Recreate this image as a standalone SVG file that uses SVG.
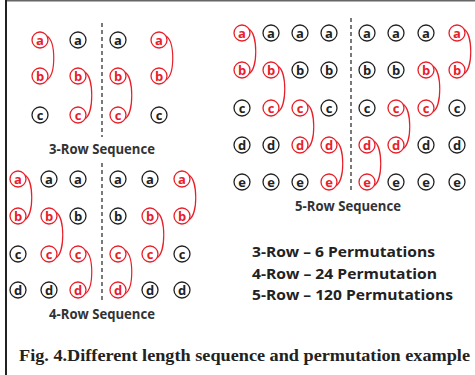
<svg xmlns="http://www.w3.org/2000/svg" width="475" height="375" viewBox="0 0 475 375">
  <style>
    .node circle { fill: #fff; stroke-width: 1.3; }
    .node text { font-family: "Open Sans", "Liberation Sans", sans-serif; font-weight: bold; font-size: 13px; text-anchor: middle; }
    .r circle { stroke: #e8202a; }
    .r text { fill: #e8202a; }
    .k circle { stroke: #222; }
    .k text { fill: #222; }
    .link { fill: none; stroke: #e8202a; stroke-width: 1.2; }
    .divider { stroke: #333; stroke-width: 1.3; stroke-dasharray: 4 3; }
    .title { font-family: "Open Sans", "Liberation Sans", sans-serif; font-weight: bold; font-size: 14px; fill: #333; }
    .perm { font-family: "Open Sans", "Liberation Sans", sans-serif; font-weight: bold; font-size: 15px; fill: #222; }
    .caption { font-family: "Liberation Serif", "Times New Roman", serif; font-weight: bold; font-size: 17px; fill: #222; }
  </style>

  <rect width="475" height="375" fill="#fff"/>
  <!-- frame -->
  <line x1="6" y1="0.7" x2="475" y2="0.7" stroke="#666" stroke-width="1.4"/>
  <line x1="6" y1="0" x2="6" y2="375" stroke="#222" stroke-width="2"/>

  <!-- dividers -->
  <line class="divider" x1="102" y1="23" x2="102" y2="137"/>
  <line class="divider" x1="102" y1="163" x2="102" y2="302"/>
  <line class="divider" x1="351" y1="18" x2="351" y2="193"/>

  <!-- connectors -->
  <g id="connectors">
    <!-- 3-row -->
    <path class="link" d="M47,36 C56,42 56,74 47,80"/>
    <path class="link" d="M85,72 C94,78 94,113 85,119"/>
    <path class="link" d="M125,72 C134,78 134,113 125,119"/>
    <path class="link" d="M166,36 C175,42 175,74 166,80"/>
    <!-- 4-row -->
    <path class="link" d="M25,175 C34,181 34,214 25,220"/>
    <path class="link" d="M56,212 C65,218 65,252 56,258"/>
    <path class="link" d="M85,250 C94,256 94,288 85,294"/>
    <path class="link" d="M125,250 C134,256 134,288 125,294"/>
    <path class="link" d="M157,212 C166,218 166,252 157,258"/>
    <path class="link" d="M189,175 C198,181 198,214 189,220"/>
    <!-- 5-row -->
    <path class="link" d="M249,29 C258,35 258,68 249,74"/>
    <path class="link" d="M278,66 C287,72 287,106 278,112"/>
    <path class="link" d="M307,104 C316,110 316,143 307,149"/>
    <path class="link" d="M336,141 C345,147 345,180 336,186"/>
    <path class="link" d="M374,141 C383,147 383,180 374,186"/>
    <path class="link" d="M403,104 C412,110 412,143 403,149"/>
    <path class="link" d="M433,66 C442,72 442,106 433,112"/>
    <path class="link" d="M464,29 C473,35 473,68 464,74"/>
  </g>

  <!-- 3-row sequence -->
  <g id="s3-c1a" class="node r"><circle cx="40" cy="40" r="8"/><text x="40" y="44.5">a</text></g>
  <g id="s3-c1b" class="node r"><circle cx="40" cy="76" r="8"/><text x="40" y="80.5">b</text></g>
  <g id="s3-c1c" class="node k"><circle cx="40" cy="115" r="8"/><text x="40" y="119.5">c</text></g>
  <g id="s3-c2a" class="node k"><circle cx="78" cy="40" r="8"/><text x="78" y="44.5">a</text></g>
  <g id="s3-c2b" class="node r"><circle cx="78" cy="76" r="8"/><text x="78" y="80.5">b</text></g>
  <g id="s3-c2c" class="node r"><circle cx="78" cy="115" r="8"/><text x="78" y="119.5">c</text></g>
  <g id="s3-c3a" class="node k"><circle cx="118" cy="40" r="8"/><text x="118" y="44.5">a</text></g>
  <g id="s3-c3b" class="node r"><circle cx="118" cy="76" r="8"/><text x="118" y="80.5">b</text></g>
  <g id="s3-c3c" class="node r"><circle cx="118" cy="115" r="8"/><text x="118" y="119.5">c</text></g>
  <g id="s3-c4a" class="node r"><circle cx="159" cy="40" r="8"/><text x="159" y="44.5">a</text></g>
  <g id="s3-c4b" class="node r"><circle cx="159" cy="76" r="8"/><text x="159" y="80.5">b</text></g>
  <g id="s3-c4c" class="node k"><circle cx="159" cy="115" r="8"/><text x="159" y="119.5">c</text></g>
  <text class="title" x="49" y="154" textLength="106" lengthAdjust="spacingAndGlyphs">3-Row Sequence</text>

  <!-- 4-row sequence -->
  <g id="s4-c1a" class="node r"><circle cx="18" cy="179" r="8"/><text x="18" y="183.5">a</text></g>
  <g id="s4-c1b" class="node r"><circle cx="18" cy="216" r="8"/><text x="18" y="220.5">b</text></g>
  <g id="s4-c1c" class="node k"><circle cx="18" cy="254" r="8"/><text x="18" y="258.5">c</text></g>
  <g id="s4-c1d" class="node k"><circle cx="18" cy="290" r="8"/><text x="18" y="294.5">d</text></g>
  <g id="s4-c2a" class="node k"><circle cx="49" cy="179" r="8"/><text x="49" y="183.5">a</text></g>
  <g id="s4-c2b" class="node r"><circle cx="49" cy="216" r="8"/><text x="49" y="220.5">b</text></g>
  <g id="s4-c2c" class="node r"><circle cx="49" cy="254" r="8"/><text x="49" y="258.5">c</text></g>
  <g id="s4-c2d" class="node k"><circle cx="49" cy="290" r="8"/><text x="49" y="294.5">d</text></g>
  <g id="s4-c3a" class="node k"><circle cx="78" cy="179" r="8"/><text x="78" y="183.5">a</text></g>
  <g id="s4-c3b" class="node k"><circle cx="78" cy="216" r="8"/><text x="78" y="220.5">b</text></g>
  <g id="s4-c3c" class="node r"><circle cx="78" cy="254" r="8"/><text x="78" y="258.5">c</text></g>
  <g id="s4-c3d" class="node r"><circle cx="78" cy="290" r="8"/><text x="78" y="294.5">d</text></g>
  <g id="s4-c4a" class="node k"><circle cx="118" cy="179" r="8"/><text x="118" y="183.5">a</text></g>
  <g id="s4-c4b" class="node k"><circle cx="118" cy="216" r="8"/><text x="118" y="220.5">b</text></g>
  <g id="s4-c4c" class="node r"><circle cx="118" cy="254" r="8"/><text x="118" y="258.5">c</text></g>
  <g id="s4-c4d" class="node r"><circle cx="118" cy="290" r="8"/><text x="118" y="294.5">d</text></g>
  <g id="s4-c5a" class="node k"><circle cx="150" cy="179" r="8"/><text x="150" y="183.5">a</text></g>
  <g id="s4-c5b" class="node r"><circle cx="150" cy="216" r="8"/><text x="150" y="220.5">b</text></g>
  <g id="s4-c5c" class="node r"><circle cx="150" cy="254" r="8"/><text x="150" y="258.5">c</text></g>
  <g id="s4-c5d" class="node k"><circle cx="150" cy="290" r="8"/><text x="150" y="294.5">d</text></g>
  <g id="s4-c6a" class="node r"><circle cx="182" cy="179" r="8"/><text x="182" y="183.5">a</text></g>
  <g id="s4-c6b" class="node r"><circle cx="182" cy="216" r="8"/><text x="182" y="220.5">b</text></g>
  <g id="s4-c6c" class="node k"><circle cx="182" cy="254" r="8"/><text x="182" y="258.5">c</text></g>
  <g id="s4-c6d" class="node k"><circle cx="182" cy="290" r="8"/><text x="182" y="294.5">d</text></g>
  <text class="title" x="49" y="319" textLength="106" lengthAdjust="spacingAndGlyphs">4-Row Sequence</text>

  <!-- 5-row sequence -->
  <g id="s5-c1a" class="node r"><circle cx="242" cy="33" r="8"/><text x="242" y="37.5">a</text></g>
  <g id="s5-c1b" class="node r"><circle cx="242" cy="70" r="8"/><text x="242" y="74.5">b</text></g>
  <g id="s5-c1c" class="node k"><circle cx="242" cy="108" r="8"/><text x="242" y="112.5">c</text></g>
  <g id="s5-c1d" class="node k"><circle cx="242" cy="145" r="8"/><text x="242" y="149.5">d</text></g>
  <g id="s5-c1e" class="node k"><circle cx="242" cy="182" r="8"/><text x="242" y="186.5">e</text></g>
  <g id="s5-c2a" class="node k"><circle cx="271" cy="33" r="8"/><text x="271" y="37.5">a</text></g>
  <g id="s5-c2b" class="node r"><circle cx="271" cy="70" r="8"/><text x="271" y="74.5">b</text></g>
  <g id="s5-c2c" class="node r"><circle cx="271" cy="108" r="8"/><text x="271" y="112.5">c</text></g>
  <g id="s5-c2d" class="node k"><circle cx="271" cy="145" r="8"/><text x="271" y="149.5">d</text></g>
  <g id="s5-c2e" class="node k"><circle cx="271" cy="182" r="8"/><text x="271" y="186.5">e</text></g>
  <g id="s5-c3a" class="node k"><circle cx="300" cy="33" r="8"/><text x="300" y="37.5">a</text></g>
  <g id="s5-c3b" class="node k"><circle cx="300" cy="70" r="8"/><text x="300" y="74.5">b</text></g>
  <g id="s5-c3c" class="node r"><circle cx="300" cy="108" r="8"/><text x="300" y="112.5">c</text></g>
  <g id="s5-c3d" class="node r"><circle cx="300" cy="145" r="8"/><text x="300" y="149.5">d</text></g>
  <g id="s5-c3e" class="node k"><circle cx="300" cy="182" r="8"/><text x="300" y="186.5">e</text></g>
  <g id="s5-c4a" class="node k"><circle cx="329" cy="33" r="8"/><text x="329" y="37.5">a</text></g>
  <g id="s5-c4b" class="node k"><circle cx="329" cy="70" r="8"/><text x="329" y="74.5">b</text></g>
  <g id="s5-c4c" class="node k"><circle cx="329" cy="108" r="8"/><text x="329" y="112.5">c</text></g>
  <g id="s5-c4d" class="node r"><circle cx="329" cy="145" r="8"/><text x="329" y="149.5">d</text></g>
  <g id="s5-c4e" class="node r"><circle cx="329" cy="182" r="8"/><text x="329" y="186.5">e</text></g>
  <g id="s5-c5a" class="node k"><circle cx="367" cy="33" r="8"/><text x="367" y="37.5">a</text></g>
  <g id="s5-c5b" class="node k"><circle cx="367" cy="70" r="8"/><text x="367" y="74.5">b</text></g>
  <g id="s5-c5c" class="node k"><circle cx="367" cy="108" r="8"/><text x="367" y="112.5">c</text></g>
  <g id="s5-c5d" class="node r"><circle cx="367" cy="145" r="8"/><text x="367" y="149.5">d</text></g>
  <g id="s5-c5e" class="node r"><circle cx="367" cy="182" r="8"/><text x="367" y="186.5">e</text></g>
  <g id="s5-c6a" class="node k"><circle cx="396" cy="33" r="8"/><text x="396" y="37.5">a</text></g>
  <g id="s5-c6b" class="node k"><circle cx="396" cy="70" r="8"/><text x="396" y="74.5">b</text></g>
  <g id="s5-c6c" class="node r"><circle cx="396" cy="108" r="8"/><text x="396" y="112.5">c</text></g>
  <g id="s5-c6d" class="node r"><circle cx="396" cy="145" r="8"/><text x="396" y="149.5">d</text></g>
  <g id="s5-c6e" class="node k"><circle cx="396" cy="182" r="8"/><text x="396" y="186.5">e</text></g>
  <g id="s5-c7a" class="node k"><circle cx="426" cy="33" r="8"/><text x="426" y="37.5">a</text></g>
  <g id="s5-c7b" class="node r"><circle cx="426" cy="70" r="8"/><text x="426" y="74.5">b</text></g>
  <g id="s5-c7c" class="node r"><circle cx="426" cy="108" r="8"/><text x="426" y="112.5">c</text></g>
  <g id="s5-c7d" class="node k"><circle cx="426" cy="145" r="8"/><text x="426" y="149.5">d</text></g>
  <g id="s5-c7e" class="node k"><circle cx="426" cy="182" r="8"/><text x="426" y="186.5">e</text></g>
  <g id="s5-c8a" class="node r"><circle cx="457" cy="33" r="8"/><text x="457" y="37.5">a</text></g>
  <g id="s5-c8b" class="node r"><circle cx="457" cy="70" r="8"/><text x="457" y="74.5">b</text></g>
  <g id="s5-c8c" class="node k"><circle cx="457" cy="108" r="8"/><text x="457" y="112.5">c</text></g>
  <g id="s5-c8d" class="node k"><circle cx="457" cy="145" r="8"/><text x="457" y="149.5">d</text></g>
  <g id="s5-c8e" class="node k"><circle cx="457" cy="182" r="8"/><text x="457" y="186.5">e</text></g>
  <text class="title" x="295" y="211" textLength="106" lengthAdjust="spacingAndGlyphs">5-Row Sequence</text>

  <!-- permutation counts -->
  <text class="perm" x="252" y="257" textLength="183" lengthAdjust="spacingAndGlyphs">3-Row – 6 Permutations</text>
  <text class="perm" x="252" y="279" textLength="185" lengthAdjust="spacingAndGlyphs">4-Row – 24 Permutation</text>
  <text class="perm" x="252" y="300" textLength="201" lengthAdjust="spacingAndGlyphs">5-Row – 120 Permutations</text>

  <!-- caption -->
  <text class="caption" x="19" y="361" textLength="451" lengthAdjust="spacingAndGlyphs">Fig. 4.Different length sequence and permutation example</text>
</svg>
